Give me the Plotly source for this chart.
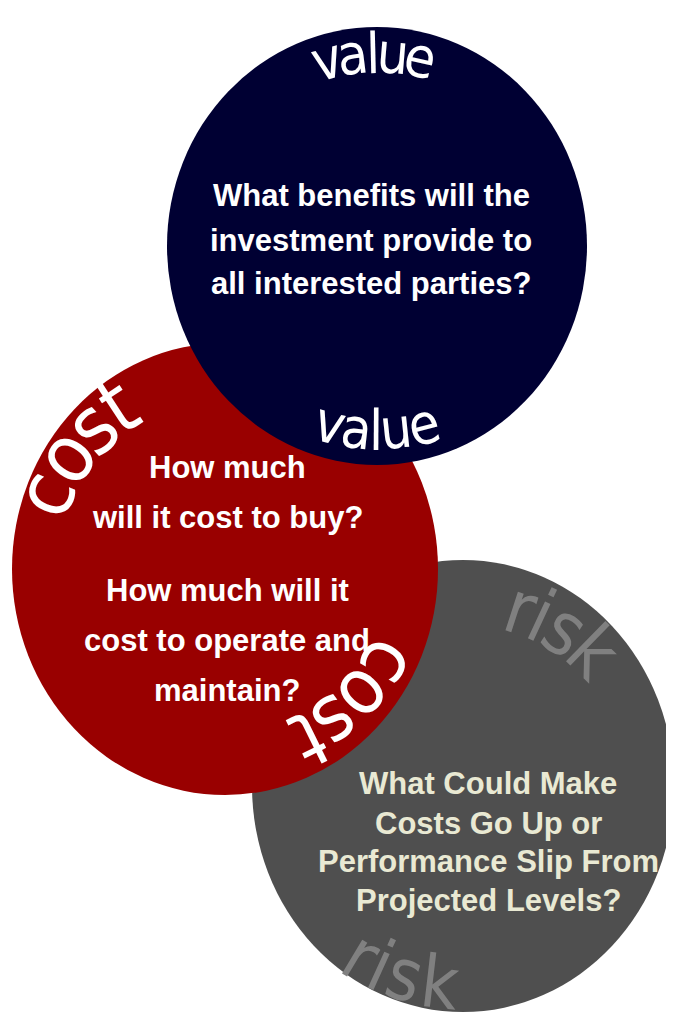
import math

import plotly.graph_objects as go

WIDTH, HEIGHT = 674, 1012
PAGE_PAD = 8  # default body margin of the html page

# circles, drawn bottom to top
CIRCLES = ["risk", "cost", "value"]
FILL = {"risk": "#4f4f4f", "cost": "#990000", "value": "#000033"}
CENTER = {"risk": (463, 786), "cost": (225, 569), "value": (377, 246)}
RADII = {"risk": (211, 226), "cost": (213, 226), "value": (210, 219)}

VALUE_LINES = ["What benefits will the", "investment provide to", "all interested parties?"]
COST_LINES = ["How much", "will it cost to buy?", "How much will it", "cost to operate and", "maintain?"]
RISK_LINES = ["What Could Make", "Costs Go Up or", "Performance Slip From", "Projected Levels?"]

QUESTION_COLOR = {"value": "white", "cost": "white", "risk": "#e9e9d3"}
WORD_COLOR = {"value": "white", "cost": "white", "risk": "#808080"}

# approximate advance widths (em) of the curved-word font
GLYPH_W = dict(v=.533, a=.552, l=.25, u=.571, e=.554, c=.495, o=.551, s=.469, t=.353, r=.37, i=.25, k=.521)
ARC_FONT = "DejaVu Sans Condensed, DejaVu Sans, sans-serif"
TEXT_FONT = "Liberation Sans, Arial, sans-serif"


def arc_word(fig, word, center, radius, mid_deg, size, color, outward=True, spacing=1.0):
    cx, cy = center
    widths = [GLYPH_W[ch] * size * spacing for ch in word]
    sign = 1 if outward else -1
    pos = -sum(widths) / 2
    for ch, w in zip(word, widths):
        s = pos + w / 2
        ang = mid_deg + sign * math.degrees(s / radius)
        x = cx + radius * math.cos(math.radians(ang))
        y = cy + radius * math.sin(math.radians(ang))
        fig.add_annotation(
            x=x, y=y, text=ch, showarrow=False, xanchor="center", yanchor="middle",
            textangle=ang + 90 if outward else ang - 90,
            font=dict(family=ARC_FONT, size=size, color=color),
        )
        pos += w


def text_lines(fig, lines, x, ys, size, color):
    for line, y in zip(lines, ys):
        fig.add_annotation(
            x=x, y=y, text=f"<b>{line}</b>", showarrow=False, xanchor="center", yanchor="middle",
            font=dict(family=TEXT_FONT, size=size, color=color),
        )


fig = go.Figure()
for name in CIRCLES:
    cx, cy = CENTER[name]
    rx, ry = RADII[name]
    fig.add_shape(type="circle", xref="x", yref="y", x0=cx - rx, x1=cx + rx, y0=cy - ry, y1=cy + ry,
                  fillcolor=FILL[name], line=dict(width=0), layer="above")

# curved labels
arc_word(fig, "value", CENTER["value"], 193, -91, 56, WORD_COLOR["value"], outward=True, spacing=0.88)
arc_word(fig, "value", CENTER["value"], 184, 90, 56, WORD_COLOR["value"], outward=False, spacing=0.88)
arc_word(fig, "cost", CENTER["cost"], 195, -141, 80, WORD_COLOR["cost"], outward=True, spacing=1.0)
arc_word(fig, "cost", CENTER["cost"], 190, 46, 78, WORD_COLOR["cost"], outward=True, spacing=1.0)
arc_word(fig, "risk", CENTER["risk"], 187, -58, 74, WORD_COLOR["risk"], outward=True, spacing=1.0)
arc_word(fig, "risk", CENTER["risk"], 198, 108, 72, WORD_COLOR["risk"], outward=False, spacing=1.0)

# questions
text_lines(fig, VALUE_LINES, 371, [195, 240, 283], 31, QUESTION_COLOR["value"])
text_lines(fig, COST_LINES, 227, [467, 517, 590, 640, 690], 31, QUESTION_COLOR["cost"])
text_lines(fig, RISK_LINES, 488, [783, 823, 861, 900], 31, QUESTION_COLOR["risk"])

fig.update_layout(
    width=WIDTH - PAGE_PAD,
    height=HEIGHT - PAGE_PAD,
    margin=dict(l=0, r=0, t=0, b=0),
    paper_bgcolor="white",
    plot_bgcolor="white",
    showlegend=False,
    xaxis=dict(range=[PAGE_PAD, WIDTH], visible=False, fixedrange=True),
    yaxis=dict(range=[HEIGHT, PAGE_PAD], visible=False, fixedrange=True),
)
fig.write_html("out.html")
